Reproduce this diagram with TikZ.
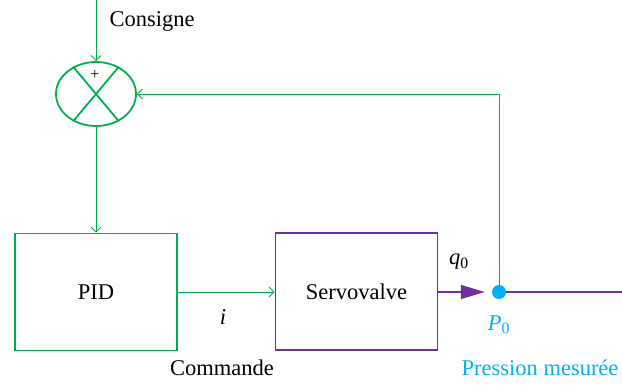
\documentclass[tikz,border=0pt]{standalone}
\usepackage{fontspec}
\setmainfont{Liberation Serif}
\usetikzlibrary{shapes.geometric,arrows.meta}
\definecolor{vert}{RGB}{0,176,80}
\definecolor{violet}{RGB}{112,48,160}
\definecolor{bleu}{RGB}{0,176,240}

\begin{document}
\begin{tikzpicture}[x=1pt,y=-1pt,font=\fontsize{22.5}{26}\selectfont]
    \tikzstyle{bloc}=[draw,line width=1.8pt,minimum width=162pt,minimum height=117pt,inner sep=0pt]
    \tikzstyle{fleche}=[->,>={Straight Barb[length=5pt,width=10pt]},draw=vert,line width=0.9pt]
    \tikzstyle{comparateur}=[ellipse,draw=vert,line width=1.8pt,minimum width=80pt,minimum height=64pt,inner sep=0pt]
\useasboundingbox (0,0) rectangle (622,385);

\node[comparateur] (comp) at (96,94) {};
\draw[vert,line width=1.8pt] (comp.130) -- (comp.-50);
\draw[vert,line width=1.8pt] (comp.50) -- (comp.-130);
\node[font=\fontsize{16}{16}\selectfont] (plus) at (95,75) {+};

\node[bloc,draw=vert] (pid) at (96,292) {PID};
\node[bloc,draw=violet] (servo) at (356.5,291.5) {Servovalve};
\node[circle,fill=bleu,minimum size=14pt,inner sep=0pt] (p0) at (499,292) {};

\coordinate (entree) at (96,0);
\coordinate (sortie) at (622,292);

\draw[fleche] (entree) -- (comp.north);
\draw[fleche] (comp.south) -- (pid.north);
\draw[fleche] (pid.east) -- (pid.east -| servo.west);
\draw[fleche] (p0) |- (comp.east);
\draw[violet,line width=1.2pt,-{Triangle[length=24pt,width=14pt]},shorten >=7pt] (servo.east |- p0) -- (p0);
\draw[violet,line width=1.2pt] (p0) -- (sortie);

% textes
\node (consigne) at (152,21) {Consigne};
\node (commande) at (222,368) {Commande};
\node (lbli) at (223,317) {\textit{i}};
\node (lblq) at (459,262) {\textit{q}\textsubscript{0}};
\node[text=bleu] (lblp) at (499,325) {\textit{P}\textsubscript{0}};
\node[text=bleu,anchor=east] (mesure) at (622,368) {Pression mesurée};
\end{tikzpicture}
\end{document}
